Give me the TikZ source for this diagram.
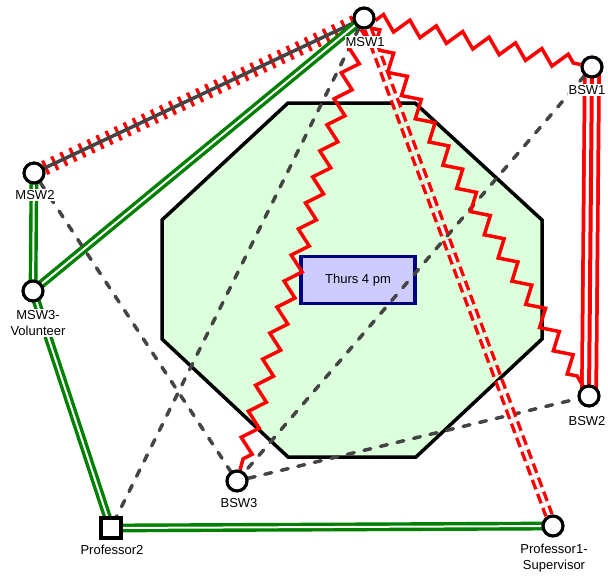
\documentclass[tikz,border=0pt]{standalone}
\usepackage{fontspec}
\setmainfont{Liberation Sans}
\usetikzlibrary{decorations.pathmorphing}

\definecolor{mint}{RGB}{220,255,220}
\definecolor{lavend}{RGB}{204,204,255}
\definecolor{navyblue}{RGB}{0,0,128}
\definecolor{tiegreen}{RGB}{0,128,0}
\definecolor{slate}{RGB}{68,68,68}

\pgfdeclarelayer{groundlayer}
\pgfdeclarelayer{linklayer}
\pgfsetlayers{groundlayer,linklayer,main}

\begin{document}
\begin{tikzpicture}[x=1pt,y=-1pt,
  person/.style={circle, draw=black, line width=3.2pt, fill=white,
                 minimum size=20pt, inner sep=0pt},
  chair/.style={rectangle, draw=black, line width=3.2pt, fill=white,
                minimum size=20pt, inner sep=0pt},
  tag/.style={fill=white, inner sep=1pt, text=black,
              font=\fontsize{13}{16}\selectfont, align=center},
  strongtie/.style={draw=tiegreen, line width=3.4pt, double=white,
                    double distance=2pt},
  weaktie/.style={draw=slate, line width=3.5pt, line cap=round,
                  dash pattern=on 7pt off 10pt},
  tensetie/.style={draw=red, line width=3.5pt, decorate,
                   decoration={zigzag, segment length=27pt, amplitude=7.5pt}},
  brokentie/.style={draw=red, line width=3.4pt, double=white,
                    double distance=3pt, dash pattern=on 10pt off 5pt},
]
\useasboundingbox (0,0) rectangle (608,576);

% meeting area and its time slot
\begin{pgfonlayer}{groundlayer}
  \draw[line width=3.5pt, fill=mint, line join=miter]
    (288,103) -- (415,103) -- (542,220) -- (542,339) --
    (416,457) -- (288,457) -- (162,339) -- (162,220) -- cycle;
  \node[draw=navyblue, fill=lavend, line width=3.5pt, minimum width=114pt,
        minimum height=47pt, inner sep=0pt,
        font=\fontsize{13}{16}\selectfont] (slot) at (358,280) {Thurs 4 pm};
\end{pgfonlayer}

% people
\node[person] (msw1) at (364,18) {};
\node[person] (bsw1) at (592,67) {};
\node[person] (msw2) at (34,173) {};
\node[person] (msw3) at (33,291) {};
\node[person] (bsw2) at (589,396) {};
\node[person] (bsw3) at (237,481) {};
\node[chair]  (prof2) at (111,528) {};
\node[person] (prof1) at (553,526) {};

% ties between people
\begin{pgfonlayer}{linklayer}
  % hatched tie
  \draw[red, line width=15pt, dash pattern=on 3.2pt off 6.8pt]
    (msw1.center) -- (msw2.center);
  \draw[slate, line width=3.5pt] (msw1.center) -- (msw2.center);
  % strong ties
  \draw[strongtie] (msw1.center) -- (msw3.center);
  \draw[strongtie] (msw2.center) -- (msw3.center);
  \draw[strongtie] (msw3.center) -- (prof2.center);
  \draw[strongtie] (prof2.center) -- (prof1.center);
  % triple tie
  \draw[red, line width=18pt] (bsw1.center) -- (bsw2.center);
  \draw[white, line width=10.5pt] (bsw1.center) -- (bsw2.center);
  \draw[red, line width=4pt] (bsw1.center) -- (bsw2.center);
  % weak ties
  \draw[weaktie] (msw1) -- (prof2);
  \draw[weaktie] (msw2) -- (bsw3);
  \draw[weaktie] (bsw1) -- (bsw3);
  \draw[weaktie] (bsw3) -- (bsw2);
  % tense ties
  \draw[tensetie] (msw1) -- (bsw1);
  \draw[tensetie] (msw1) -- (bsw3);
  \draw[tensetie] (msw1) -- (bsw2);
  % broken tie
  \draw[brokentie] (msw1) -- (prof1);
\end{pgfonlayer}

% names
\node[tag] (lmsw1) at (365,42) {MSW1};
\node[tag] (lbsw1) at (587,90) {BSW1};
\node[tag] (lmsw2) at (35,195) {MSW2};
\node[tag] (lmsw3) at (38,323) {MSW3-\\Volunteer};
\node[tag] (lbsw2) at (587,421) {BSW2};
\node[tag] (lbsw3) at (239,503) {BSW3};
\node[tag] (lprof2) at (112,550) {Professor2};
\node[tag] (lprof1) at (554,558) {Professor1-\\Supervisor};
\end{tikzpicture}
\end{document}
